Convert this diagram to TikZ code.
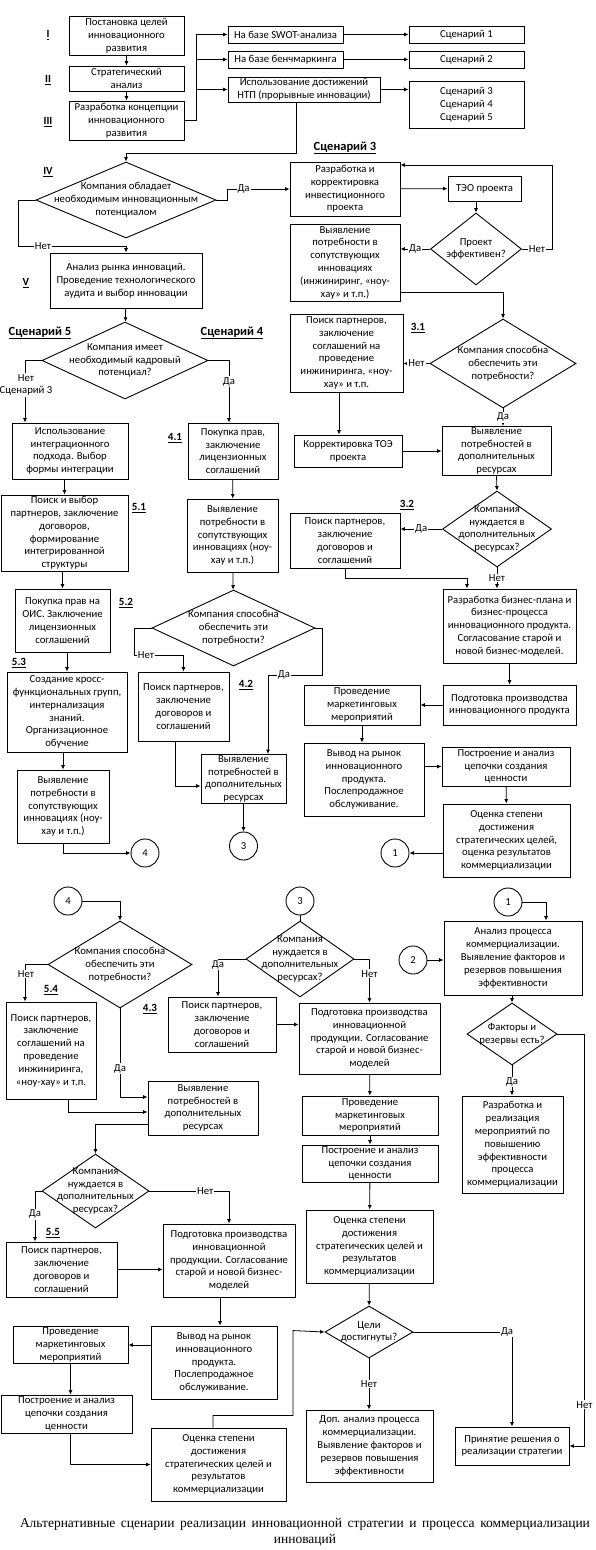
\documentclass[tikz,border=0pt]{standalone}
\usepackage{fontspec}
\setmainfont{Carlito}
\newfontfamily\serifcap{Liberation Serif}
\usetikzlibrary{shapes.geometric, arrows.meta, positioning, calc}
\newcommand{\bxf}{\fontsize{10.7}{12.8}\selectfont}
\newcommand{\ttlf}{\fontsize{12.5}{14}\selectfont\bfseries}
\newcommand{\numf}{\fontsize{11}{13}\selectfont\bfseries}

\begin{document}
\begin{tikzpicture}[x=1pt, y=-1pt,
  blk/.style n args={2}{draw, line width=0.9pt, align=center, inner sep=1pt, minimum width=#1, minimum height=#2, font=\bxf},
  dia/.style n args={2}{draw, diamond, line width=0.9pt, inner sep=0pt, minimum width=#1, minimum height=#2},
  dtxt/.style={align=center, font=\bxf, inner sep=0pt},
  circ/.style={draw, circle, line width=0.9pt, minimum size=28pt, inner sep=0pt, font=\bxf},
  arr/.style={line width=0.8pt, -{Latex[length=4.5pt, width=4pt]}},
  ln/.style={line width=0.8pt},
  yn/.style={fill=white, inner sep=1pt, font=\bxf},
  ttl/.style={font=\ttlf, inner sep=0pt},
  num/.style={font=\numf, inner sep=0pt}]
\useasboundingbox (0,0) rectangle (595,1550);

\node[blk={115pt}{39pt}] (g1) at (126.5,35.5) {Постановка целей\\инновационного\\развития};
\node[blk={115pt}{25pt}] (g2) at (126.5,78.5) {Стратегический\\анализ};
\node[blk={115pt}{39pt}] (g3) at (126.5,120.5) {Разработка концепции\\инновационного\\развития};
\node[num] (rI) at (48,35) {\underline{I}};
\node[num] (rII) at (48,80) {\underline{II}};
\node[num] (rIII) at (48,122) {\underline{III}};
\node[num] (rIV) at (48,172) {\underline{IV}};
\node[num] (rV) at (26,283) {\underline{V}};
\node[blk={115pt}{17pt}] (swot) at (285.5,34.5) {На базе SWOT-анализа};
\node[blk={115pt}{17pt}] (bench) at (285.5,59.5) {На базе бенчмаркинга};
\node[blk={152pt}{25pt}] (ntp) at (304,89.5) {Использование достижений\\НТП (прорывные инновации)};
\node[blk={115pt}{17pt}] (sc1) at (466.5,34.5) {Сценарий 1};
\node[blk={115pt}{17pt}] (sc2) at (466.5,59.5) {Сценарий 2};
\node[blk={115pt}{47pt}] (sc345) at (466.5,104.5) {Сценарий 3\\Сценарий 4\\Сценарий 5};
\node[dia={180pt}{76pt}, label={[dtxt]center:{Компания обладает\\необходимым инновационным\\потенциалом}}] (q4) at (126,200) {};

\node[ttl] (t3) at (345,148) {\underline{Сценарий 3}};
\node[blk={110pt}{54pt}] (dev) at (345,189) {Разработка и\\корректировка\\инвестиционного\\проекта};
\node[blk={73pt}{25pt}] (teo) at (484.5,188.5) {ТЭО проекта};
\node[dia={91pt}{72pt}, label={[dtxt]center:{Проект\\эффективен?}}] (q3e) at (476,249) {};
\node[blk={110pt}{77pt}] (need) at (345,262.5) {Выявление\\потребности в\\сопутствующих\\инновациях\\(инжиниринг, «ноу-\\хау» и т.п.)};
\node[dia={146pt}{89pt}, label={[dtxt]center:{Компания способна\\обеспечить эти\\потребности?}}] (q31) at (503,363.5) {};
\node[num] (n31) at (418,328) {\underline{3.1}};
\node[blk={113pt}{78pt}] (pp31) at (346.5,353) {Поиск партнеров,\\заключение\\соглашений на\\проведение\\инжиниринга, «ноу-\\хау» и т.п.};
\node[blk={108pt}{32pt}] (kor) at (348,451) {Корректировка ТОЭ\\проекта};
\node[blk={109pt}{48pt}] (add31) at (496.5,451) {Выявление\\потребностей в\\дополнительных\\ресурсах};
\node[dia={109pt}{76pt}, label={[dtxt]center:{Компания\\нуждается в\\дополнительных\\ресурсах?}}] (q32) at (497,529) {};
\node[num] (n32) at (407,505) {\underline{3.2}};
\node[blk={110pt}{55pt}] (pp32) at (345,540.5) {Поиск партнеров,\\заключение\\договоров и\\соглашений};
\node[blk={133pt}{74pt}] (bp) at (509.5,626) {Разработка бизнес-плана и\\бизнес-процесса\\инновационного продукта.\\Согласование старой и\\новой бизнес-моделей.};
\node[blk={133pt}{40pt}] (prep) at (509.5,705) {Подготовка производства\\инновационного продукта};
\node[blk={116pt}{40pt}] (mk) at (362,705) {Проведение\\маркетинговых\\мероприятий};
\node[blk={120pt}{73pt}] (out) at (364,779.5) {Вывод на рынок\\инновационного\\продукта.\\Послепродажное\\обслуживание.};
\node[blk={128pt}{39pt}] (chain) at (506,766.5) {Построение и анализ\\цепочки создания\\ценности};
\node[blk={127pt}{73pt}] (eval3) at (506.5,840.5) {Оценка степени\\достижения\\стратегических целей,\\оценка результатов\\коммерциализации};
\node[circ] (c1a) at (395,853) {1};

\node[blk={152pt}{55pt}] (anl) at (126,280.5) {Анализ рынка инноваций.\\Проведение технологического\\аудита и выбор инновации};
\node[dia={166pt}{77pt}, label={[dtxt]center:{Компания имеет\\необходимый кадровый\\потенциал?}}] (q5) at (125,360.5) {};
\node[ttl] (t5) at (40,333) {\underline{Сценарий 5}};
\node[ttl] (t4) at (232,333) {\underline{Сценарий 4}};
\node[blk={116pt}{56pt}] (int) at (70,451) {Использование\\интеграционного\\подхода. Выбор\\формы интеграции};
\node[blk={90pt}{56pt}] (p41) at (233,451) {Покупка прав,\\заключение\\лицензионных\\соглашений};
\node[num] (n41) at (175,438) {\underline{4.1}};
\node[blk={127pt}{76pt}] (p51) at (64.5,533) {Поиск и выбор\\партнеров, заключение\\договоров,\\формирование\\интегрированной\\структуры};
\node[num] (n51) at (139,508) {\underline{5.1}};
\node[blk={95pt}{63pt}] (p52) at (62.5,620.5) {Покупка прав на\\ОИС. Заключение\\лицензионных\\соглашений};
\node[num] (n52) at (126,603) {\underline{5.2}};
\node[blk={120pt}{80pt}] (p53) at (67,712) {Создание кросс-\\функциональных групп,\\интернализация\\знаний.\\Организационное\\обучение};
\node[num] (n53) at (19,663) {\underline{5.3}};
\node[blk={92pt}{73pt}] (n5) at (63,806.5) {Выявление\\потребности в\\сопутствующих\\инновациях (ноу-\\хау и т.п.)};
\node[circ] (c4a) at (145,853) {4};
\node[blk={91pt}{73pt}] (n4) at (232.5,535.5) {Выявление\\потребности в\\сопутствующих\\инновациях (ноу-\\хау и т.п.)};
\node[dia={163pt}{76pt}, label={[dtxt]center:{Компания способна\\обеспечить эти\\потребности?}}] (q42) at (233.5,628) {};
\node[blk={91pt}{69pt}] (pp42) at (183.5,706.5) {Поиск партнеров,\\заключение\\договоров и\\соглашений};
\node[num] (n42) at (246,685) {\underline{4.2}};
\node[blk={85pt}{48pt}] (add42) at (243.5,779) {Выявление\\потребностей в\\дополнительных\\ресурсах};
\node[circ] (c3a) at (243.5,846) {3};

\node[circ] (c4b) at (68,901) {4};
\node[dia={144pt}{87pt}, label={[dtxt]center:{Компания способна\\обеспечить эти\\потребности?}}] (q43) at (120,964.5) {};
\node[blk={90pt}{97pt}] (p54) at (51,1050.5) {Поиск партнеров,\\заключение\\соглашений на\\проведение\\инжиниринга,\\«ноу-хау» и т.п.};
\node[num] (n54) at (51,990) {\underline{5.4}};
\node[num] (n43) at (150,1009) {\underline{4.3}};
\node[blk={110pt}{54pt}] (add43) at (203,1108) {Выявление\\потребностей в\\дополнительных\\ресурсах};
\node[dia={107pt}{74pt}, label={[dtxt]center:{Компания\\нуждается в\\дополнительных\\ресурсах?}}] (q53) at (95.5,1191) {};
\node[num] (n55) at (53,1233) {\underline{5.5}};
\node[blk={111pt}{55pt}] (p55) at (61.5,1269.5) {Поиск партнеров,\\заключение\\договоров и\\соглашений};
\node[blk={132pt}{73pt}] (prep5) at (229,1260.5) {Подготовка производства\\инновационной\\продукции. Согласование\\старой и новой бизнес-\\моделей};
\node[blk={126pt}{73pt}] (out5) at (214,1362.5) {Вывод на рынок\\инновационного\\продукта.\\Послепродажное\\обслуживание.};
\node[blk={115pt}{36pt}] (mk5) at (70.5,1345) {Проведение\\маркетинговых\\мероприятий};
\node[blk={131pt}{38pt}] (ch5) at (66.5,1414) {Построение и анализ\\цепочки создания\\ценности};
\node[blk={135pt}{73pt}] (ev5) at (218.5,1464.5) {Оценка степени\\достижения\\стратегических целей и\\результатов\\коммерциализации};

\node[circ] (c3b) at (300,901) {3};
\node[dia={108pt}{76pt}, label={[dtxt]center:{Компания\\нуждается в\\дополнительных\\ресурсах?}}] (q3b) at (300,959) {};
\node[blk={108pt}{55pt}] (pp3b) at (222,1024.5) {Поиск партнеров,\\заключение\\договоров и\\соглашений};
\node[blk={141pt}{71pt}] (prep3) at (369.5,1038.5) {Подготовка производства\\инновационной\\продукции. Согласование\\старой и новой бизнес-\\моделей};
\node[blk={136pt}{39pt}] (mk3) at (370,1115.5) {Проведение\\маркетинговых\\мероприятий};
\node[blk={136pt}{37pt}] (ch3) at (370,1163.5) {Построение и анализ\\цепочки создания\\ценности};
\node[blk={127pt}{73pt}] (ev3) at (369.5,1246.5) {Оценка степени\\достижения\\стратегических целей и\\результатов\\коммерциализации};
\node[dia={88pt}{52pt}, label={[dtxt]center:{Цели\\достигнуты?}}] (qg) at (369,1332) {};
\node[blk={127pt}{72pt}] (dop) at (369.5,1446) {Доп. анализ процесса\\коммерциализации.\\Выявление факторов и\\резервов повышения\\эффективности};
\node[blk={114pt}{38pt}] (dec) at (512,1446) {Принятие решения о\\реализации стратегии};

\node[circ] (c1b) at (508,902) {1};
\node[circ] (c2) at (413,960) {2};
\node[blk={138pt}{74pt}] (anp) at (513,958) {Анализ процесса\\коммерциализации.\\Выявление факторов и\\резервов повышения\\эффективности};
\node[dia={90pt}{62pt}, label={[dtxt]center:{Факторы и\\резервы есть?}}] (qf) at (512,1034) {};
\node[blk={101pt}{97pt}] (dev2) at (512.5,1144.5) {Разработка и\\реализация\\мероприятий по\\повышению\\эффективности\\процесса\\коммерциализации};

\node[font=\serifcap\fontsize{13.5}{15.5}\selectfont, align=center] (cap) at (305,1532) {\makebox[570pt][s]{Альтернативные сценарии реализации инновационной стратегии и процесса коммерциализации}\\инноваций};

\draw[arr] (g1) -- (g2);
\draw[arr] (g2) -- (g3);
\coordinate (br) at (196,120.5);
\draw[ln] (g3.east) -- (br);
\draw[arr] (br) |- (swot.west);
\draw[arr] (br) |- (bench.west);
\draw[arr] (br) |- (ntp.west);
\draw[arr] (swot) -- (sc1);
\draw[arr] (bench) -- (sc2);
\draw[arr] (ntp.east) -- (ntp.east -| sc345.west);
\draw[arr] ([xshift=-8pt]ntp.south) -- ++(0,51) -| (q4.north);
\draw[arr] (q4.east) -- ++(11,0) |- node[yn, pos=0.63] {Да} (dev.west);
\draw[arr] (q4.west) -| ++(-17,46) -| (anl.north);
\node[yn] (nq4) at (43,246) {Нет};

\draw[arr] (dev) -- (teo);
\draw[arr] (teo.south -| q3e.north) -- (q3e.north);
\draw[arr] (q3e.east) -- node[yn] {Нет} ++(30,0) |- ([yshift=24pt]dev.east);
\draw[arr] (q3e.west) -- node[yn] {Да} (q3e.west -| need.east);
\draw[arr] ([yshift=-29.5pt]need.east) -| (q31.north);
\draw[arr] (q31.west) -- node[yn] {Нет} (q31.west -| pp31.east);
\draw[arr] ([xshift=-7.5pt]pp31.south) -- ([xshift=-7.5pt]pp31.south |- kor.north);
\draw[arr] (kor) -- (add31);
\draw[arr] (q31.south) -- node[yn] {Да} (q31.south |- add31.north);
\draw[arr] (add31.south) -- (q32.north);
\draw[arr] (q32.west) -- node[yn] {Да} (q32.west -| pp32.east);
\draw[arr] (q32.south) -- node[yn] {Нет} (q32.south |- bp.north);
\draw[arr] (pp32.south) -- ++(0,10) -| ([xshift=-42.5pt]bp.north);
\draw[arr] (bp) -- (prep);
\draw[arr] (prep) -- (mk);
\draw[arr] (mk.south) -- (mk.south |- out.north);
\draw[arr] (out.east |- chain.west) -- (chain.west);
\draw[arr] (chain) -- (eval3);
\draw[arr] (c1a -| eval3.west) -- (c1a);

\draw[arr] (anl) -- (q5);
\draw[arr] (q5.west) -| ([xshift=-45pt]int.north);
\node[yn, align=center] (nq5) at (26,385) {Нет\\Сценарий 3};
\draw[arr] (q5.east) -| node[yn, pos=0.67] {Да} ([xshift=-4pt]p41.north);
\draw[arr] (int.south -| p51.north) -- (p51.north);
\draw[arr] (p51.south -| p52.north) -- (p52.north);
\draw[arr] (p52.south -| p53.north) -- (p53.north);
\draw[arr] (p53.south -| n5.north) -- (n5.north);
\draw[arr] (n5.south) |- (c4a.west);
\draw[arr] (p41) -- (n4);
\draw[arr] (n4) -- (q42);
\draw[arr] (q42.west) -| ++(-17,27) -| (pp42.north);
\node[yn] (nq42) at (146,655) {Нет};
\draw[arr] (q42.east) -| ++(7,47) -| ([xshift=24.5pt]add42.north);
\node[yn] (yq42) at (284,675) {Да};
\draw[arr] ([xshift=-8.5pt]pp42.south) |- ([yshift=-7pt]add42.west);
\draw[arr] (add42) -- (c3a);

\draw[arr] (c4b.east) -| (q43.north);
\draw[arr] (q43.west) -| ([xshift=-26pt]p54.north);
\node[yn] (nq43) at (26,974) {Нет};
\draw[arr] (q43.south) |- node[yn, pos=0.34] {Да} ([yshift=11pt]add43.west);
\draw[arr] ([xshift=17pt]p54.south) |- ([yshift=-4pt]add43.west);
\draw[arr] ([yshift=-16pt]add43.west) -| (q53.north);
\draw[arr] (q53.east) -| node[yn, pos=0.35] {Нет} (prep5.north);
\draw[arr] (q53.west) -| node[yn, pos=0.73] {Да} ([xshift=-26.5pt]p55.north);
\draw[arr] (p55.east) -- (p55.east -| prep5.west);
\draw[arr] ([xshift=-9pt]prep5.south) -- ([xshift=-9pt]prep5.south |- out5.north);
\draw[arr] (out5.west |- mk5.east) -- (mk5.east);
\draw[arr] (mk5.south) -- (mk5.south |- ch5.north);
\draw[arr] ([xshift=3.5pt]ch5.south) |- (ev5.west);
\draw[arr] ([xshift=-5.5pt]ev5.north) -- ++(0,-12) -| ++(80,-85) -- (qg.west);

\draw[ln] (c3b) -- (q3b);
\draw[arr] (q3b.west) -| node[yn, pos=0.58] {Да} ([xshift=-4pt]pp3b.north);
\draw[arr] (q3b.east) -| node[yn, pos=0.67] {Нет} (prep3.north);
\draw[arr] (pp3b.east) -- (pp3b.east -| prep3.west);
\draw[arr] (prep3) -- (mk3);
\draw[arr] (mk3) -- (ch3);
\draw[arr] (ch3) -- (ev3);
\draw[arr] (ev3) -- (qg);
\draw[arr] (qg.south) -- node[yn] {Нет} (qg.south |- dop.north);
\draw[arr] (qg.east) -| node[yn, pos=0.475] {Да} (dec.north);

\draw[arr] (c1b.east) -| ([xshift=33pt]anp.north);
\draw[arr] (c2) -- (c2 -| anp.west);
\draw[arr] (anp.south -| qf.north) -- (qf.north);
\draw[arr] (qf.south) -- node[yn, pos=0.55] {Да} (qf.south |- dev2.north);
\draw[arr] (qf.east) -- ++(27,0) |- node[yn, pos=0.45] {Нет} (dec.east);
\end{tikzpicture}
\end{document}
